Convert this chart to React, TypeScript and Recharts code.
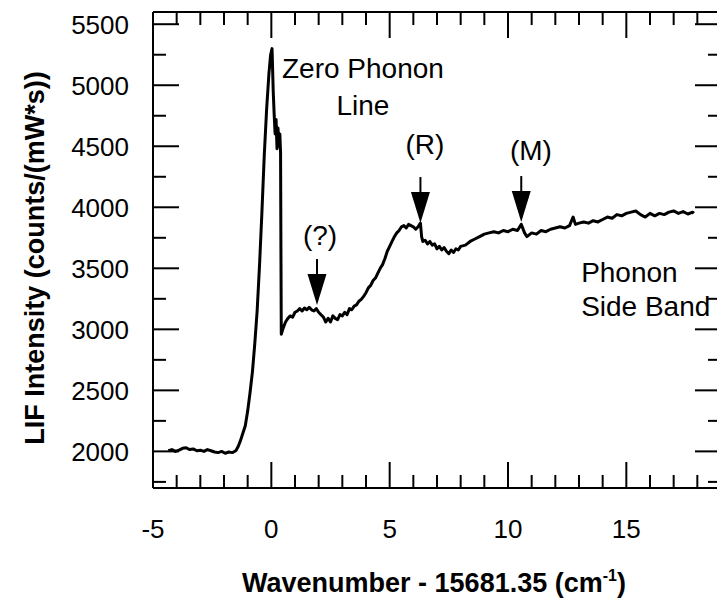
import React from 'react';
import { LineChart, Line, XAxis, YAxis, ReferenceDot } from 'recharts';

// ---- data ----
const wavenumber = [
  -4.35, -4.2, -4.05, -3.9, -3.75, -3.6, -3.45, -3.3, -3.15, -3.0, -2.85, -2.7, -2.55, -2.4, -2.25, -2.1, -1.95, -1.8, -1.65, -1.5,
  -1.4, -1.3, -1.2, -1.1, -1.0, -0.9, -0.8, -0.7, -0.6, -0.5, -0.4, -0.3, -0.2, -0.1, -0.03, 0.03, 0.08, 0.12, 0.16, 0.2, 0.24, 0.28, 0.32, 0.36, 0.39, 0.42,
  0.5, 0.6, 0.7, 0.8, 0.9, 1.0, 1.1, 1.2, 1.3, 1.4, 1.5, 1.6, 1.7, 1.8, 1.9, 2.0, 2.1, 2.2, 2.3, 2.4, 2.5, 2.6, 2.7, 2.8, 2.9, 3.0,
  3.1, 3.2, 3.3, 3.4, 3.5, 3.6, 3.7, 3.8, 3.9, 4.0, 4.1, 4.2, 4.3, 4.4, 4.5, 4.6, 4.7, 4.8, 4.9, 5.0, 5.1, 5.2, 5.3, 5.4, 5.5, 5.6, 5.7, 5.8, 5.9, 6.0,
  6.1, 6.2, 6.3, 6.35, 6.4, 6.5, 6.6, 6.7, 6.8, 6.9, 7.0, 7.1, 7.2, 7.3, 7.4, 7.5, 7.6, 7.7, 7.8, 7.9, 8.0, 8.2, 8.4, 8.6, 8.8, 9.0, 9.2, 9.4, 9.6, 9.8, 10.0,
  10.2, 10.4, 10.56, 10.7, 10.8, 11.0, 11.2, 11.4, 11.6, 11.8, 12.0, 12.2, 12.4, 12.6, 12.75, 12.85, 13.0, 13.2, 13.4, 13.6, 13.8, 14.0, 14.2, 14.4, 14.6, 14.8, 15.0,
  15.2, 15.4, 15.6, 15.8, 16.0, 16.2, 16.4, 16.6, 16.8, 17.0, 17.2, 17.4, 17.6, 17.8, 17.85,
];
const intensity = [
  2005, 2015, 2000, 2010, 2025, 2030, 2015, 2020, 2005, 2010, 2000, 2015, 2005, 1995, 1990, 2000, 1985, 1995, 1990, 2005,
  2040, 2090, 2150, 2210, 2330, 2480, 2650, 2880, 3150, 3520, 3950, 4420, 4800, 5100, 5250, 5300, 4950, 4760, 4600, 4720, 4480, 4650, 4500, 4600, 4450, 2960,
  3010, 3060, 3090, 3110, 3100, 3140, 3150, 3170, 3150, 3175, 3160, 3180, 3160, 3150, 3170, 3140, 3120, 3100, 3060, 3090, 3060, 3110, 3090, 3080, 3120, 3110,
  3140, 3120, 3170, 3160, 3190, 3200, 3230, 3245, 3270, 3300, 3340, 3360, 3400, 3420, 3460, 3500, 3530, 3580, 3640, 3680, 3720, 3760, 3790, 3810, 3840, 3850, 3830, 3860, 3850, 3840,
  3820, 3840, 3870, 3760, 3720, 3730, 3700, 3720, 3690, 3700, 3660, 3680, 3650, 3670, 3640, 3620, 3650, 3630, 3660, 3650, 3680, 3690, 3720, 3740, 3760, 3780, 3790, 3800, 3790, 3810, 3800,
  3820, 3810, 3860, 3790, 3760, 3790, 3780, 3810, 3800, 3820, 3830, 3840, 3830, 3850, 3920, 3860, 3870, 3880, 3870, 3890, 3880, 3900, 3920, 3910, 3940, 3930, 3950,
  3960, 3970, 3940, 3920, 3950, 3930, 3950, 3940, 3960, 3970, 3950, 3965, 3945, 3960, 3950,
];

const xTicks = [-5, -4, -3, -2, -1, 0, 1, 2, 3, 4, 5, 6, 7, 8, 9, 10, 11, 12, 13, 14, 15, 16, 17, 18, 19];
const xTickLabels = [-5, 0, 5, 10, 15];
const yTicks = [1750, 2000, 2250, 2500, 2750, 3000, 3250, 3500, 3750, 4000, 4250, 4500, 4750, 5000, 5250, 5500];
const yTickLabels = [2000, 2500, 3000, 3500, 4000, 4500, 5000, 5500];

// arrow tips (data coordinates)
const arrowX = [1.93, 6.3, 10.56];
const arrowY = [3199, 3871, 3879];

// annotation anchors (data coordinates)
const noteText = ['Zero Phonon', 'Line', '(R)', '(M)', '(?)', 'Phonon', 'Side Band'];
const noteX = [3.87, 3.87, 6.49, 10.97, 2.06, 13.09, 13.09];
const noteY = [5059, 4756, 4437, 4387, 3691, 3388, 3109];
const noteAnchor = ['middle', 'middle', 'middle', 'middle', 'middle', 'start', 'start'];

const data = wavenumber.map((x, i) => ({ x, y: intensity[i] }));

const FONT = '"Liberation Sans", Arial, Helvetica, sans-serif';
const MAJOR = 26;
const MINOR = 13;

const BottomTick = (props: any) => {
  const { x, y, payload } = props;
  const v = payload.value;
  const major = v % 5 === 0;
  return (
    <g>
      <line x1={x} x2={x} y1={y} y2={y - (major ? MAJOR : MINOR)} stroke="#000" strokeWidth={2} />
      {xTickLabels.includes(v) && (
        <text x={x} y={y + 50} textAnchor="middle" fontSize={26} fontFamily={FONT} fill="#000">
          {v}
        </text>
      )}
    </g>
  );
};

const TopTick = (props: any) => {
  const { x, y, payload } = props;
  const major = payload.value % 5 === 0;
  return <line x1={x} x2={x} y1={y} y2={y + (major ? MAJOR : MINOR)} stroke="#000" strokeWidth={2} />;
};

const LeftTick = (props: any) => {
  const { x, y, payload } = props;
  const v = payload.value;
  const major = v % 500 === 0;
  return (
    <g>
      <line x1={x} x2={x + (major ? MAJOR : MINOR)} y1={y} y2={y} stroke="#000" strokeWidth={2} />
      {yTickLabels.includes(v) && (
        <text x={x - 24} y={y} dy="0.36em" textAnchor="end" fontSize={26} fontFamily={FONT} fill="#000">
          {v}
        </text>
      )}
    </g>
  );
};

const RightTick = (props: any) => {
  const { x, y, payload } = props;
  const major = payload.value % 500 === 0;
  return <line x1={x} x2={x - (major ? MAJOR : MINOR)} y1={y} y2={y} stroke="#000" strokeWidth={2} />;
};

const Arrow = (props: any) => {
  const { cx, cy } = props;
  const h = 31;
  const w = 9.5;
  return (
    <g>
      <line x1={cx} x2={cx} y1={cy - h - 15} y2={cy - h + 2} stroke="#000" strokeWidth={2} />
      <polygon points={`${cx - w},${cy - h} ${cx + w},${cy - h} ${cx},${cy}`} fill="#000" />
    </g>
  );
};

const makeNote = (text: string, anchor: string) => (props: any) => (
  <text x={props.cx} y={props.cy} textAnchor={anchor as any} fontSize={28} fontFamily={FONT} fill="#000">
    {text}
  </text>
);

const XTitle = (props: any) => {
  const vb = props.viewBox || {};
  const cx = (vb.x ?? 153) + (vb.width ?? 568) / 2 - 3;
  const top = vb.y ?? 488;
  return (
    <text x={cx} y={top + 104} textAnchor="middle" fontSize={27} fontWeight="bold" fontFamily={FONT} fill="#000">
      Wavenumber - 15681.35 (cm
      <tspan dy={-11} fontSize={16}>-1</tspan>
      <tspan dy={11}>)</tspan>
    </text>
  );
};

const YTitle = () => {
  const cy = 258;
  const bx = 44;
  return (
    <text
      x={bx}
      y={cy}
      transform={`rotate(-90, ${bx}, ${cy})`}
      textAnchor="middle"
      fontSize={27}
      fontWeight="bold"
      fontFamily={FONT}
      fill="#000"
    >
      LIF Intensity (counts/(mW*s))
    </text>
  );
};

export default function App() {
  return (
    <div
      style={{
        position: 'absolute',
        left: 0,
        top: 0,
        width: 717,
        height: 608,
        overflow: 'hidden',
        background: '#fff',
      }}
    >
      <LineChart width={730} height={608} data={data} margin={{ top: 0, right: 0, bottom: 0, left: 0 }}>
        <XAxis
          dataKey="x"
          type="number"
          domain={[-5, 19]}
          ticks={xTicks}
          interval={0}
          height={120}
          tickSize={0}
          tickMargin={0}
          tickLine={false}
          axisLine={{ stroke: '#000', strokeWidth: 2 }}
          tick={<BottomTick />}
          allowDataOverflow
          label={{ content: <XTitle /> }}
        />
        <XAxis
          xAxisId="top"
          orientation="top"
          dataKey="x"
          type="number"
          domain={[-5, 19]}
          ticks={xTicks}
          interval={0}
          height={12}
          tickSize={0}
          tickMargin={0}
          tickLine={false}
          axisLine={{ stroke: '#000', strokeWidth: 2 }}
          tick={<TopTick />}
          allowDataOverflow
        />
        <YAxis
          type="number"
          domain={[1700, 5600]}
          ticks={yTicks}
          interval={0}
          width={153}
          tickSize={0}
          tickMargin={0}
          tickLine={false}
          axisLine={{ stroke: '#000', strokeWidth: 2 }}
          tick={<LeftTick />}
          allowDataOverflow
          label={{ content: <YTitle /> }}
        />
        <YAxis
          yAxisId="right"
          orientation="right"
          type="number"
          domain={[1700, 5600]}
          ticks={yTicks}
          interval={0}
          width={9}
          tickSize={0}
          tickMargin={0}
          tickLine={false}
          axisLine={{ stroke: '#000', strokeWidth: 2 }}
          tick={<RightTick />}
          allowDataOverflow
        />
        <Line
          type="linear"
          dataKey="y"
          stroke="#000"
          strokeWidth={3}
          strokeLinejoin="round"
          dot={false}
          isAnimationActive={false}
        />
        {arrowX.map((ax, i) => (
          <ReferenceDot key={'a' + i} x={ax} y={arrowY[i]} r={0} shape={<Arrow />} />
        ))}
        {noteText.map((t, i) => (
          <ReferenceDot key={'n' + i} x={noteX[i]} y={noteY[i]} r={0} shape={makeNote(t, noteAnchor[i])} />
        ))}
      </LineChart>
    </div>
  );
}
